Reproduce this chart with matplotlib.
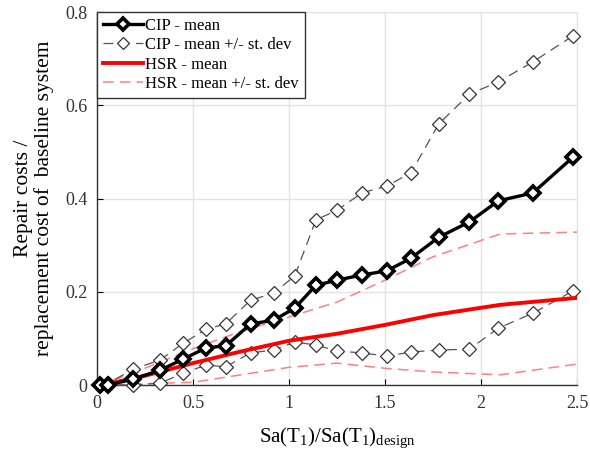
import matplotlib
matplotlib.use("Agg")
import matplotlib.pyplot as plt

plt.rcParams['font.family'] = ['Liberation Serif', 'DejaVu Serif']
plt.rcParams['mathtext.fontset'] = 'custom'
plt.rcParams['mathtext.rm'] = 'Liberation Serif'
plt.rcParams['mathtext.it'] = 'Liberation Serif:italic'

# CIP data (intensity levels)
cip_x = [0.016, 0.057, 0.19, 0.33, 0.45, 0.57, 0.67, 0.80, 0.92, 1.03, 1.14, 1.25,
         1.38, 1.51, 1.635, 1.78, 1.94, 2.09, 2.27, 2.48]
cip_mean = [0.0, 0.0, 0.013, 0.032, 0.056, 0.080, 0.084, 0.131, 0.139, 0.165, 0.214, 0.225,
            0.236, 0.245, 0.272, 0.317, 0.350, 0.395, 0.412, 0.489]
cip_upper = [0.0, 0.004, 0.034, 0.054, 0.090, 0.120, 0.131, 0.182, 0.197, 0.234, 0.354, 0.375,
             0.412, 0.427, 0.455, 0.560, 0.624, 0.650, 0.693, 0.749]
cip_lower = [0.0, 0.0, 0.0, 0.004, 0.026, 0.043, 0.039, 0.069, 0.075, 0.092, 0.086, 0.073,
             0.069, 0.062, 0.071, 0.075, 0.077, 0.122, 0.154, 0.202]

# HSR data
hsr_x = [0.0, 0.05, 0.25, 0.5, 0.75, 1.0, 1.25, 1.5, 1.75, 2.1, 2.5]
hsr_mean = [0.0, 0.002, 0.020, 0.047, 0.072, 0.095, 0.110, 0.129, 0.150, 0.172, 0.187]
hsr_upper = [0.0, 0.005, 0.036, 0.078, 0.115, 0.146, 0.178, 0.225, 0.275, 0.324, 0.328]
hsr_lower = [0.0, 0.0, 0.003, 0.006, 0.022, 0.038, 0.047, 0.036, 0.028, 0.022, 0.045]

xticks = [0, 0.5, 1, 1.5, 2, 2.5]
xticklabels = ['0', '0.5', '1', '1.5', '2', '2.5']
yticks = [0, 0.2, 0.4, 0.6, 0.8]
yticklabels = ['0', '0.2', '0.4', '0.6', '0.8']

fig = plt.figure(figsize=(5.9, 4.53), dpi=100)
ax = fig.add_axes([0.1644, 0.150, 0.8136, 0.8235])

ax.grid(True, color='#e3e3e3', lw=1.0, zorder=0)
ax.set_axisbelow(True)

dash = (7, 4)
ax.plot(hsr_x, hsr_upper, color='#ff8080', lw=1.1, dashes=dash, zorder=2,
        label='HSR - mean +/- st. dev')
ax.plot(hsr_x, hsr_lower, color='#ff8080', lw=1.1, dashes=dash, zorder=2)
ax.plot(cip_x, cip_upper, color='#555555', lw=0.9, dashes=(8, 5), marker='D', ms=6.8,
        mfc='white', mec='#333333', mew=0.9, zorder=3, clip_on=False,
        label='CIP - mean +/- st. dev')
ax.plot(cip_x, cip_lower, color='#555555', lw=0.9, dashes=(8, 5), marker='D', ms=6.8,
        mfc='white', mec='#333333', mew=0.9, zorder=3, clip_on=False)
ax.plot(hsr_x, hsr_mean, color='#ff0000', lw=2.8, zorder=4, label='HSR - mean')
ax.plot(cip_x, cip_mean, color='black', lw=2.4, marker='D', ms=6.8,
        mfc='white', mec='black', mew=2.6, zorder=5, clip_on=False, label='CIP - mean')

ax.set_xlim(0, 2.5)
ax.set_ylim(0, 0.8)
ax.set_xticks(xticks)
ax.set_xticklabels(xticklabels)
ax.set_yticks(yticks)
ax.set_yticklabels(yticklabels)
ax.tick_params(direction='in', length=4, labelsize=13, labelcolor='#333333', pad=7)

for s in ['top', 'right']:
    ax.spines[s].set_color('#e3e3e3')
for s in ['left', 'bottom']:
    ax.spines[s].set_color('#333333')
    ax.spines[s].set_linewidth(1.0)

ax.set_xlabel('Sa(T$_1$)/Sa(T$_1$)$_{\\mathrm{design}}$', fontsize=15, labelpad=10)
ax.set_ylabel('Repair costs /\nreplacement cost of  baseline system', fontsize=15.5,
              labelpad=8, linespacing=1.05)

handles, labels = ax.get_legend_handles_labels()
order = ['CIP - mean', 'CIP - mean +/- st. dev', 'HSR - mean', 'HSR - mean +/- st. dev']
hmap = dict(zip(labels, handles))
leg = ax.legend([hmap[k] for k in order], order, loc='upper left', fontsize=12,
                frameon=True, fancybox=False, edgecolor='#333333', framealpha=1,
                borderaxespad=0, handlelength=2.4, handletextpad=0.15,
                borderpad=0.35, labelspacing=0.2, markerscale=0.9)
leg.get_frame().set_linewidth(1.0)

fig.savefig('out.png', dpi=100)
